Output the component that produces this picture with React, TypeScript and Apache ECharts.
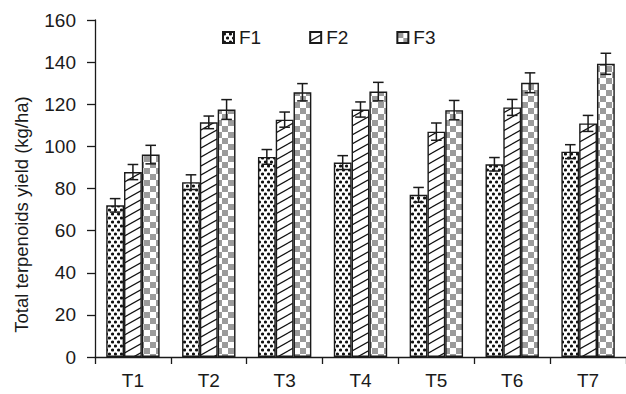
import React, { useEffect, useRef } from "react";
import * as echarts from "echarts";

const categories = ["T1", "T2", "T3", "T4", "T5", "T6", "T7"];
const seriesNames = ["F1", "F2", "F3"];
const f1Values = [72, 83, 95, 92.3, 77, 91.5, 97.5];
const f2Values = [87.8, 111.4, 112.7, 117.5, 107, 118.5, 110.9];
const f3Values = [96.1, 117.5, 125.7, 126, 117.2, 130.2, 139.2];
const f1Errors = [3.2, 3.5, 3.5, 3.3, 3.5, 3.2, 3.3];
const f2Errors = [3.6, 3.0, 3.6, 3.6, 4.1, 3.8, 3.8];
const f3Errors = [4.4, 4.7, 4.1, 4.4, 4.6, 4.7, 5.0];
const yTicks = { min: 0, max: 160, interval: 20 };

const FONT = "'Liberation Sans', Arial, Helvetica, sans-serif";
const INK = "#1a1a1a";
const BAR_W = 17.8;

function makeCanvas(w: number, h: number, draw: (ctx: CanvasRenderingContext2D) => void) {
  const c = document.createElement("canvas");
  c.width = w;
  c.height = h;
  const ctx = c.getContext("2d")!;
  ctx.fillStyle = "#ffffff";
  ctx.fillRect(0, 0, w, h);
  draw(ctx);
  return c;
}

function dotPattern() {
  const c = makeCanvas(6, 8, (ctx) => {
    ctx.fillStyle = "#111";
    for (const [x, y] of [[1.5, 2], [4.5, 6]]) {
      ctx.beginPath();
      ctx.arc(x, y, 1.6, 0, Math.PI * 2);
      ctx.fill();
    }
  });
  return { image: c.toDataURL(), repeat: "repeat", imageWidth: 6, imageHeight: 8 };
}

function hatchPattern() {
  const w = 16, h = 9;
  const c = makeCanvas(w, h, (ctx) => {
    ctx.strokeStyle = "#111";
    ctx.lineWidth = 1.2;
    for (const dx of [-w, 0, w]) {
      for (const dy of [-h, 0, h]) {
        ctx.beginPath();
        ctx.moveTo(dx, h + dy);
        ctx.lineTo(dx + w, dy);
        ctx.stroke();
      }
    }
  });
  return { image: c.toDataURL(), repeat: "repeat", imageWidth: w, imageHeight: h };
}

function checkerPattern() {
  const s = 6;
  const c = makeCanvas(2 * s, 2 * s, (ctx) => {
    ctx.fillStyle = "#9b9b9b";
    ctx.fillRect(0, 0, s, s);
    ctx.fillRect(s, s, s, s);
  });
  return { image: c.toDataURL(), repeat: "repeat", imageWidth: 2 * s, imageHeight: 2 * s };
}

export default function App() {
  const ref = useRef<HTMLDivElement>(null);

  useEffect(() => {
    if (!ref.current) return;
    const chart = echarts.init(ref.current, null, { renderer: "svg" });
    const patterns = [dotPattern(), hatchPattern(), checkerPattern()];
    const values = [f1Values, f2Values, f3Values];
    const errors = [f1Errors, f2Errors, f3Errors];

    const barSeries = seriesNames.map((name, i) => ({
      name,
      type: "bar",
      data: values[i],
      barWidth: BAR_W,
      barGap: "0%",
      itemStyle: {
        color: patterns[i] as any,
        borderColor: INK,
        borderWidth: 1.4,
      },
      z: 2,
    }));

    const errSeries = seriesNames.map((name, i) => ({
      name: "err" + name,
      type: "custom",
      z: 5,
      data: values[i].map((v, k) => [k, v, errors[i][k]]),
      encode: { x: 0, y: 1 },
      renderItem: (params: any, api: any) => {
        const k = api.value(0);
        const v = api.value(1);
        const e = api.value(2);
        const off = (i - 1) * BAR_W;
        const hi = api.coord([k, v + e]);
        const lo = api.coord([k, v - e]);
        const x = hi[0] + off;
        const cw = 5.3;
        const style = { stroke: INK, lineWidth: 1.5 };
        return {
          type: "group",
          children: [
            { type: "line", shape: { x1: x, y1: hi[1], x2: x, y2: lo[1] }, style },
            { type: "line", shape: { x1: x - cw, y1: hi[1], x2: x + cw, y2: hi[1] }, style },
            { type: "line", shape: { x1: x - cw, y1: lo[1], x2: x + cw, y2: lo[1] }, style },
          ],
        };
      },
    }));

    chart.setOption({
      animation: false,
      backgroundColor: "#ffffff",
      textStyle: { fontFamily: FONT, color: INK },
      grid: { left: 95, top: 20, width: 532, height: 337, containLabel: false },
      legend: {
        data: seriesNames,
        left: 217,
        top: 23,
        itemWidth: 11,
        itemHeight: 11,
        itemGap: 48,
        icon: "rect",
        textStyle: { fontFamily: FONT, fontSize: 19, color: INK },
        selectedMode: false,
      },
      xAxis: {
        type: "category",
        data: categories,
        axisLine: { lineStyle: { color: INK, width: 1.3 } },
        axisTick: { show: true, length: 7, lineStyle: { color: INK, width: 1.3 } },
        axisLabel: { fontFamily: FONT, fontSize: 19, color: INK, margin: 14 },
        splitLine: { show: false },
      },
      yAxis: {
        type: "value",
        min: yTicks.min,
        max: yTicks.max,
        interval: yTicks.interval,
        name: "Total terpenoids yield (kg/ha)",
        nameLocation: "middle",
        nameGap: 64,
        nameTextStyle: { fontFamily: FONT, fontSize: 18.5, color: INK, padding: [0, 52, 0, 0] },
        axisLine: { show: true, lineStyle: { color: INK, width: 1.3 } },
        axisTick: { show: true, length: 8, lineStyle: { color: INK, width: 1.3 } },
        axisLabel: { fontFamily: FONT, fontSize: 19, color: INK, margin: 19 },
        splitLine: { show: false },
      },
      series: [...barSeries, ...errSeries],
    } as any);

    return () => chart.dispose();
  }, []);

  return <div ref={ref} style={{ width: 626, height: 394, position: "absolute", left: 0, top: 0 }} />;
}
